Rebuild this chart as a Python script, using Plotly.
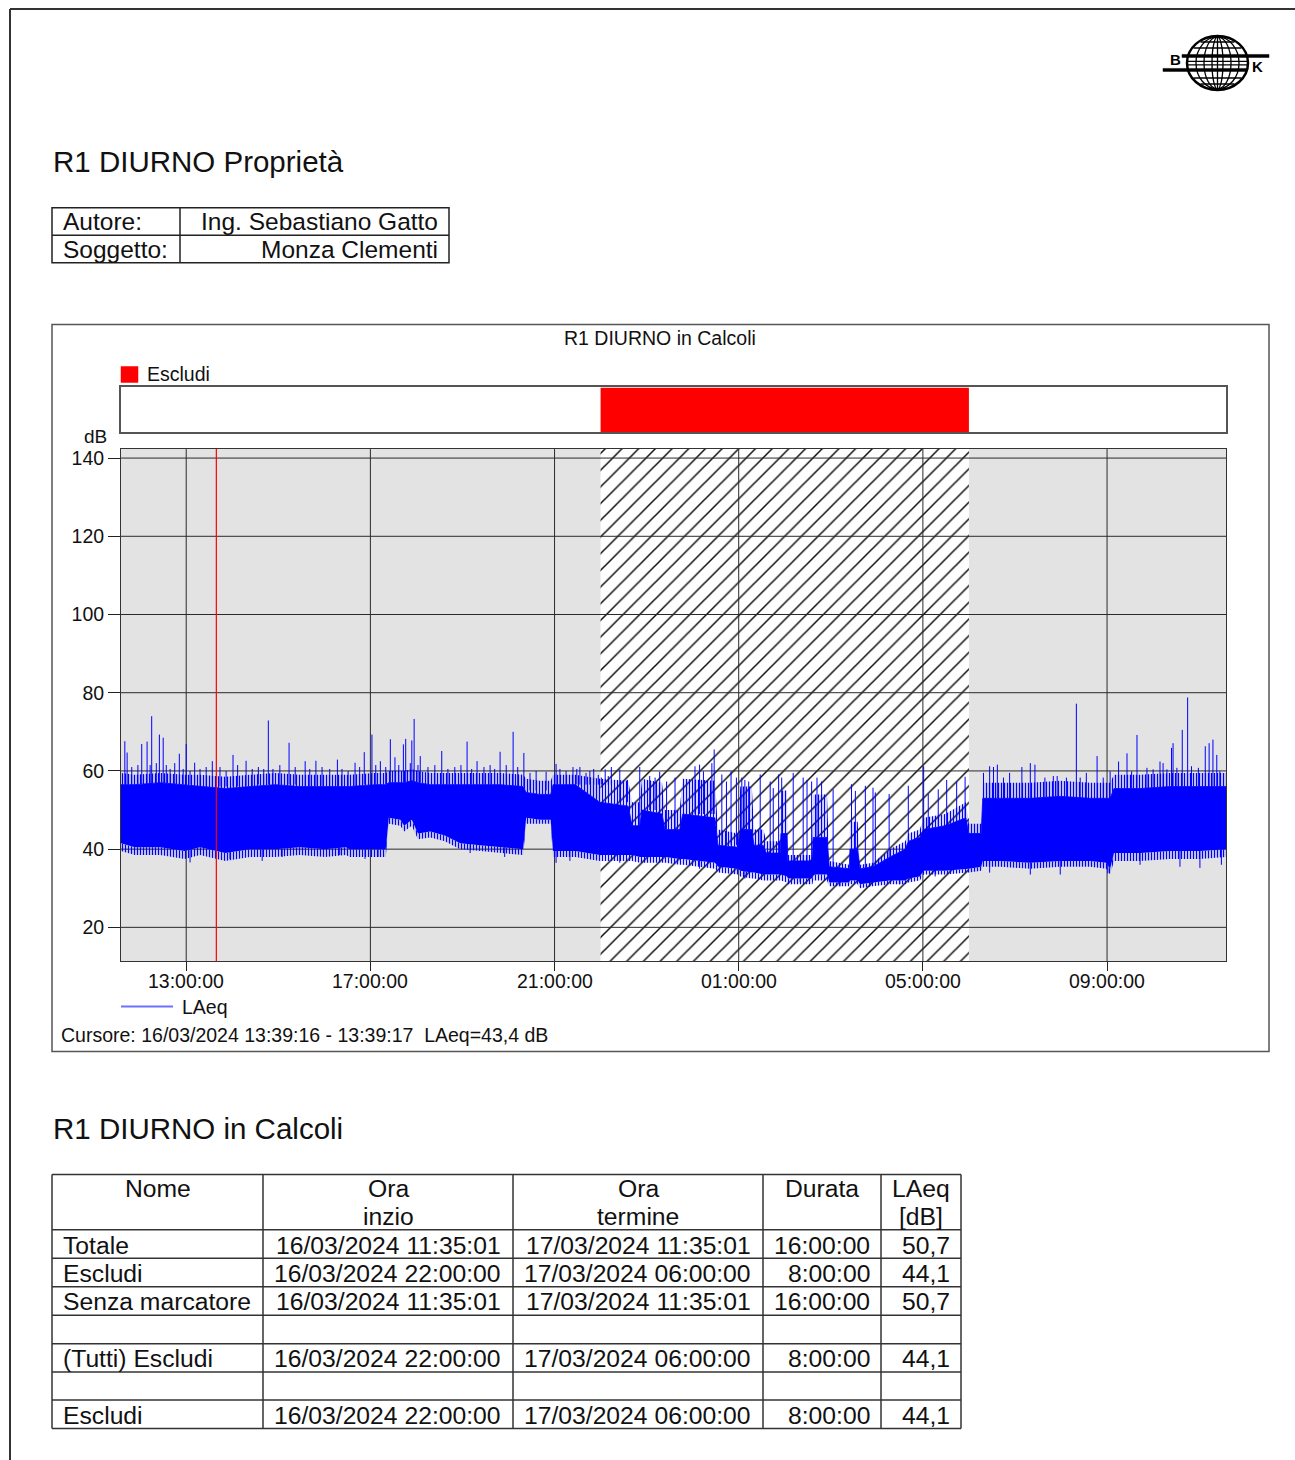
import plotly.graph_objects as go
import pandas as pd

W, H = 1295, 1460

# ---------------- data ----------------
rec_start = "2024-03-16 11:35:01"
rec_end = "2024-03-17 11:35:01"
excl_start = "2024-03-16 22:00:00"
excl_end = "2024-03-17 06:00:00"
cursor_time = "2024-03-16 13:39:16"

x_tick_times = ["2024-03-16 13:00:00", "2024-03-16 17:00:00", "2024-03-16 21:00:00",
                "2024-03-17 01:00:00", "2024-03-17 05:00:00", "2024-03-17 09:00:00"]
x_tick_labels = ["13:00:00", "17:00:00", "21:00:00", "01:00:00", "05:00:00", "09:00:00"]
y_ticks = [20, 40, 60, 80, 100, 120, 140]
y_range = [11.3, 142.3]

# LAeq trace envelope (minutes after start, dB):
#   floor = lowest sparse samples, lo/core = dense part, hi = top of the dense fringe of peaks
env_min = [0, 18, 51, 83, 103, 136, 168, 201, 233, 266, 293, 298, 331, 345, 349, 364, 369, 379, 387, 403,
           422, 442, 468, 494, 524, 528, 546, 560, 563, 592, 624, 661, 666, 676, 679, 705, 709, 728, 732, 774,
           778, 804, 807, 822, 825, 837, 841, 859, 860, 868, 869, 901, 902, 920, 923, 949, 950, 960, 963, 980,
           1002, 1022, 1026, 1041, 1046, 1074, 1101, 1105, 1121, 1123, 1146, 1185, 1224, 1263, 1284, 1289, 1294,
           1328, 1367, 1406, 1440]
env_floor = [39.5, 38.5, 38.5, 37.5, 38.5, 37, 38, 38, 38.5, 38, 38.5, 38, 38, 38, 46.5, 46, 44.5, 46, 42.5, 43,
             42, 40, 39.5, 39, 38.5, 46.5, 46.5, 46.5, 38, 38, 37, 37, 37, 36.5, 36.5, 36.5, 36.5, 36, 36, 35,
             34, 33.5, 33, 32.5, 32.5, 32, 32, 32, 32, 31.5, 31, 31, 32, 32, 30.5, 30.5, 31, 31, 30, 30.5,
             31, 31, 31.5, 32, 33.5, 33.5, 34, 34, 34.5, 35.5, 35.5, 35, 35.5, 35.5, 35, 33.5, 37,
             37, 37.5, 37.5, 38]
env_lo = [41.5, 40.5, 40.5, 39.5, 40.5, 39, 40, 40, 40.5, 40, 40.5, 40, 40, 40, 48, 47.5, 46, 47.5, 44, 44.5,
          43.5, 41.5, 41, 40.5, 40, 48, 47.5, 47.5, 39.5, 39.5, 38.5, 38.5, 38.5, 38, 38, 38, 38, 37.5, 37.5, 36.5,
          35.5, 35, 34.5, 34, 34, 33.5, 33.5, 33.5, 33.5, 33, 32.5, 32.5, 33.5, 33.5, 31.5, 31.5, 32, 32, 31, 31.5,
          32, 32, 32.5, 33, 34.5, 34.5, 35, 35, 35.5, 37, 37, 36.5, 37, 37, 36.5, 35, 39,
          39, 39.5, 39.5, 40]
env_core = [56.5, 56.5, 57, 56.5, 56, 55.5, 56, 56.5, 56, 56, 56, 56, 56.5, 56.5, 57, 57, 57, 57.5, 57, 56.5,
            56.5, 56.5, 56.5, 56.5, 56, 54.5, 54, 54, 56.5, 56.5, 52, 51, 46, 46, 50, 49, 45, 45, 49, 48,
            41, 40.5, 45, 45, 41, 41, 39, 39, 44, 44, 37, 37, 43, 43, 35.5, 35, 40, 40, 35, 35.5,
            38, 40, 42, 43, 45, 46, 48, 44, 44, 53, 53, 53, 53.5, 53, 53, 53, 55.5,
            55.5, 56, 56, 56]
env_hi = [59.5, 59, 59.5, 59, 59, 58.5, 59, 59.5, 59, 59, 59, 59, 59.5, 59.5, 60, 60, 60, 60.5, 60, 59.5,
          59.5, 59.5, 59.5, 59.5, 59, 58, 57.5, 57.5, 59, 59, 58, 57.5, 52, 52, 58, 57, 50, 50, 58, 57.5,
          45, 44, 56, 56, 45, 45, 42, 42, 55, 55, 38.5, 38.5, 54, 54, 37, 36, 47, 47, 36, 36.5,
          40, 42, 44, 45, 48, 49, 52, 46.5, 46.5, 57, 57, 57, 57.5, 57, 57, 57, 59,
          59, 59.5, 59.5, 59.5]

# isolated peaks: minutes after start, level where the peak leaves the band, peak level (dB)
peak_min = [5, 8, 14, 22, 27, 34, 38, 40, 46, 50, 55, 59, 64, 70, 76, 81, 85, 90, 96, 103,
            111, 119, 129, 137, 146, 152, 163, 171, 179, 186, 192, 198, 207, 219, 227, 240, 246, 254, 262, 272,
            282, 288, 296, 305, 311, 317, 327, 332, 338, 345, 351, 357, 362, 368, 371, 377, 379, 382, 387, 390,
            400, 409, 418, 426, 435, 443, 451, 457, 464, 473, 481, 487, 494, 502, 511, 517, 525, 533, 541, 554,
            567, 572, 580, 589, 594, 598, 606, 611, 616, 622, 626, 631, 635, 639, 650, 660, 676, 689, 696, 702,
            711, 722, 737, 748, 754, 759, 770, 773, 783, 789, 795, 802, 809, 813, 818, 833, 846, 850, 857, 861,
            876, 889, 894, 900, 907, 913, 928, 952, 957, 970, 980, 983, 1001, 1026, 1046, 1052, 1065, 1076, 1089, 1100,
            1124, 1132, 1137, 1142, 1150, 1158, 1174, 1185, 1191, 1204, 1215, 1220, 1232, 1245, 1250, 1258, 1272, 1280, 1289,
            1300, 1311, 1317, 1324, 1337, 1345, 1354, 1358, 1363, 1369, 1371, 1376, 1383, 1390, 1395, 1404, 1413, 1418,
            1423, 1428, 1432, 1437]
peak_base = [56.5] * 19 + [56] * 9 + [56.5] * 7 + [56] * 10 + [56.5] * 5 + [57] * 10 + [56.5] * 14 + [56] * 3 + [55] * 3 + \
            [56.5] * 14 + [52, 52, 46, 50, 50, 49,
             45, 45, 49, 49, 49, 49, 49, 49, 41, 41, 41, 41, 45, 45, 45, 41, 39, 39, 39, 44,
             37, 37, 37, 37, 43, 43, 35.5, 40, 40, 35, 35.5, 35.5, 38, 42, 45, 45, 46, 46, 47, 48] + \
            [53] * 19 + [55.5] * 9 + [56] * 12
peak_top = [67.6, 64.7, 61.0, 61.5, 66.9, 67.5, 61.5, 74.0, 62.0, 69.3, 68.5, 61.5, 60.5, 62.0, 64.4, 60.5, 66.9, 60.0, 62.1, 60.5,
            61.0, 62.5, 61.0, 60.0, 64.1, 61.5, 62.6, 60.5, 61.0, 60.5, 72.9, 60.5, 61.5, 67.2, 61.0, 62.5, 60.5, 62.6, 61.0, 60.5,
            62.9, 60.5, 60.0, 62.1, 61.0, 64.8, 69.3, 61.5, 62.5, 61.0, 68.1, 63.5, 61.5, 66.8, 68.2, 62.0, 67.8, 73.3, 61.5, 63.8,
            61.0, 61.5, 65.1, 60.5, 61.0, 61.5, 67.5, 60.5, 62.5, 61.0, 61.5, 60.5, 64.9, 61.5, 70.0, 61.0, 64.6, 59.5, 60.0, 59.8,
            61.8, 60.5, 60.0, 61.0, 60.5, 61.0, 59.5, 60.0, 60.5, 59.0, 58.3, 60.4, 58.7, 61.0, 60.4, 57.7, 61.0, 58.7, 58.3, 59.8,
            57.3, 58.3, 57.7, 61.2, 61.6, 59.9, 62.0, 65.5, 59.1, 57.3, 59.9, 58.3, 58.3, 57.7, 57.3, 59.1, 57.3, 55.6, 59.1, 58.3,
            59.5, 58.3, 57.7, 57.3, 58.3, 57.3, 55.3, 56.6, 54.9, 56.2, 55.7, 54.5, 54.1, 56.2, 61.2, 54.1, 55.3, 57.7, 57.3, 58.5,
            59.5, 61.2, 61.0, 61.6, 58.3, 59.5, 61.0, 62.0, 61.6, 58.3, 58.7, 58.7, 58.3, 77.2, 58.3, 59.5, 63.8, 58.3, 59.9,
            62.4, 64.5, 59.9, 69.2, 60.8, 60.4, 62.4, 62.0, 60.4, 65.9, 67.1, 60.8, 70.5, 78.8, 61.2, 60.8, 66.3, 67.1,
            68.0, 64.1, 59.9, 66.3]

# isolated dips: minutes after start, band bottom level, dip level (dB)
dip_min = [90, 142, 184, 210, 285, 318, 335, 455, 500, 567, 585, 650, 754, 813, 885, 937, 976, 1015, 1061,
           1132, 1185, 1224, 1286, 1328, 1380, 1406, 1434]
dip_base = [40, 39.5, 40, 40, 40.5, 40.5, 40.5, 41.5, 41, 40, 40, 39, 37.5, 35, 33, 32, 32, 32.5, 35,
            37.5, 37, 37.5, 37, 39.5, 40, 40, 40.5]
dip_bottom = [36.6, 37.5, 37.0, 38.0, 38.5, 37.5, 38.0, 39.0, 38.0, 36.5, 37.0, 36.5, 35.0, 32.5, 31.5, 30.5, 30.5, 31.0, 33.0,
              34.0, 33.5, 33.5, 33.8, 36.0, 35.5, 35.2, 36.0]

# tables
info_labels = ["Autore:", "Soggetto:"]
info_values = ["Ing. Sebastiano Gatto", "Monza Clementi"]
tab_header_1 = ["Nome", "Ora", "Ora", "Durata", "LAeq"]
tab_header_2 = ["", "inzio", "termine", "", "[dB]"]
tab_nome = ["Totale", "Escludi", "Senza marcatore", "", "(Tutti) Escludi", "", "Escludi"]
tab_inizio = ["16/03/2024 11:35:01", "16/03/2024 22:00:00", "16/03/2024 11:35:01", "",
              "16/03/2024 22:00:00", "", "16/03/2024 22:00:00"]
tab_termine = ["17/03/2024 11:35:01", "17/03/2024 06:00:00", "17/03/2024 11:35:01", "",
               "17/03/2024 06:00:00", "", "17/03/2024 06:00:00"]
tab_durata = ["16:00:00", "8:00:00", "16:00:00", "", "8:00:00", "", "8:00:00"]
tab_laeq = ["50,7", "44,1", "50,7", "", "44,1", "", "44,1"]

# ---------------- helpers ----------------
t0 = pd.Timestamp(rec_start)


def at(m):
    return t0 + pd.Timedelta(minutes=m)


FONT = "Liberation Sans"
BLUE = "#0000ff"
shapes = []
annotations = []


def X(x):
    return x / W


def Y(y):
    return 1 - y / H


def text(s, x, y, size, xanchor="left", color="#111"):
    annotations.append(dict(text=s, x=X(x), y=Y(y), xref="paper", yref="paper", xanchor=xanchor,
                            yanchor="middle", showarrow=False,
                            font=dict(family=FONT, size=size, color=color)))


def line(x0, y0, x1, y1, color="#222", width=1.5):
    shapes.append(dict(type="line", xref="paper", yref="paper", x0=X(x0), y0=Y(y0), x1=X(x1), y1=Y(y1),
                       line=dict(color=color, width=width)))


def rect(x0, y0, x1, y1, color="#222", width=1.5, fill="rgba(0,0,0,0)"):
    shapes.append(dict(type="rect", xref="paper", yref="paper", x0=X(x0), y0=Y(y0), x1=X(x1), y1=Y(y1),
                       line=dict(color=color, width=width), fillcolor=fill))


def ellipse(x0, y0, x1, y1, color="#000", width=1.5, fill="rgba(0,0,0,0)"):
    shapes.append(dict(type="circle", xref="paper", yref="paper", x0=X(x0), y0=Y(y0), x1=X(x1), y1=Y(y1),
                       line=dict(color=color, width=width), fillcolor=fill))


fig = go.Figure()

# exclusion hatch (below grid and data)
box_x = [excl_start, excl_end, excl_end, excl_start, excl_start]
fig.add_trace(go.Scatter(
    x=box_x, y=[y_range[0], y_range[0], y_range[1], y_range[1], y_range[0]],
    mode="lines", line=dict(width=0, color="rgba(0,0,0,0)"), fill="toself", fillcolor="white",
    fillpattern=dict(shape="/", fgcolor="#111111", bgcolor="white", size=11.8, solidity=0.13, fillmode="replace"),
    hoverinfo="skip", xaxis="x", yaxis="y"))

# grid
gx, gy = [], []
for v in y_ticks:
    gx += [rec_start, rec_end, None]
    gy += [v, v, None]
for t in x_tick_times:
    gx += [t, t, None]
    gy += [y_range[0], y_range[1], None]
fig.add_trace(go.Scatter(x=gx, y=gy, mode="lines", line=dict(color="#2a2a2a", width=1),
                         hoverinfo="skip", xaxis="x", yaxis="y"))

# LAeq band: sparse fringe below, dense core, sparse fringe above
env_t = [at(m) for m in env_min]
fringe = dict(shape="|", fgcolor=BLUE, bgcolor="rgba(0,0,0,0)", size=3, solidity=0.45, fillmode="replace")
fig.add_trace(go.Scatter(x=env_t, y=env_floor, mode="lines", line=dict(width=0, color="rgba(0,0,0,0)"),
                         xaxis="x", yaxis="y", hoverinfo="skip"))
fig.add_trace(go.Scatter(x=env_t, y=env_lo, mode="lines", line=dict(width=0, color="rgba(0,0,0,0)"),
                         fill="tonexty", fillcolor="rgba(0,0,0,0)", fillpattern=fringe,
                         xaxis="x", yaxis="y", hoverinfo="skip"))
fig.add_trace(go.Scatter(x=env_t, y=env_core, mode="lines", line=dict(color=BLUE, width=0.8),
                         fill="tonexty", fillcolor=BLUE, xaxis="x", yaxis="y", name="LAeq"))
fig.add_trace(go.Scatter(x=env_t, y=env_hi, mode="lines", line=dict(width=0, color="rgba(0,0,0,0)"),
                         fill="tonexty", fillcolor="rgba(0,0,0,0)", fillpattern=fringe,
                         xaxis="x", yaxis="y", hoverinfo="skip"))

# peaks and dips
sx, sy = [], []
for m, b, p in zip(peak_min, peak_base, peak_top):
    sx += [at(m), at(m), None]
    sy += [b, p, None]
for m, b, p in zip(dip_min, dip_base, dip_bottom):
    sx += [at(m), at(m), None]
    sy += [b, p, None]
fig.add_trace(go.Scatter(x=sx, y=sy, mode="lines", line=dict(color=BLUE, width=1),
                         xaxis="x", yaxis="y", name="LAeq"))

# marker bar (Escludi)
fig.add_trace(go.Scatter(x=box_x, y=[0, 0, 1, 1, 0], mode="lines", line=dict(width=0, color="rgba(0,0,0,0)"),
                         fill="toself", fillcolor="#ff0000", xaxis="x2", yaxis="y2", hoverinfo="skip"))

# plot background and cursor
shapes.append(dict(type="rect", xref="x domain", yref="y domain", x0=0, x1=1, y0=0, y1=1,
                   fillcolor="#e3e3e3", line=dict(width=0), layer="below"))
shapes.append(dict(type="line", xref="x", yref="y domain", x0=cursor_time, x1=cursor_time, y0=0, y1=1,
                   line=dict(color="#ff0000", width=1.2), layer="above"))

# x tick labels
for tv, tl in zip(x_tick_times, x_tick_labels):
    annotations.append(dict(text=tl, x=tv, xref="x", y=Y(980.5), yref="paper", xanchor="center",
                            yanchor="middle", showarrow=False, font=dict(family=FONT, size=19.5, color="#111")))

# ---------------- page decorations ----------------
line(10, 7, 1295, 7, "#333", 2)
line(10, 7, 10, 1460, "#333", 2)

# logo
ellipse(1187, 34, 1248, 88, "#000", 2.5, "white")
ellipse(1196, 35, 1239, 87, "#000", 1.3)
ellipse(1204, 35, 1231, 87, "#000", 1.3)
ellipse(1212, 35, 1223, 87, "#000", 1.3)
line(1217.5, 35, 1217.5, 87, "#000", 1.3)
for yy, half in [(40, 17), (46, 24), (76, 24), (82, 17)]:
    line(1217.5 - half, yy, 1217.5 + half, yy, "#000", 1.5)
line(1188, 59.5, 1247, 59.5, "#000", 1.3)
line(1188, 63, 1247, 63, "#000", 1.3)
rect(1182, 52.5, 1269, 55.5, "#000", 0.5, "#000")
rect(1163, 66.5, 1247, 69.5, "#000", 0.5, "#000")
text("<b>B</b>", 1175.5, 57.5, 15, "center", "#000")
text("<b>K</b>", 1257, 65, 15, "center", "#000")

# title and info table
text("R1 DIURNO Proprietà", 51, 160, 29.5)
rect(52, 206, 449, 261, "#222", 1.5)
line(52, 233.5, 449, 233.5, "#222", 1.5)
line(180, 206, 180, 261, "#222", 1.5)
for i, (lab, val) in enumerate(zip(info_labels, info_values)):
    yc = 220 + i * 28
    text(lab, 61, yc, 24.5)
    text(val, 440, yc, 24.5, "right")

# chart frame & labels
rect(52, 323, 1269, 1051, "#555", 1.5)
text("R1 DIURNO in Calcoli", 660, 336, 19.5, "center")
rect(121, 365, 138, 381, "#ff0000", 0.5, "#ff0000")
text("Escludi", 145, 373, 19.5)
text("dB", 95, 435, 19, "center")
line(121, 1006, 173, 1006, "#7070ff", 2)
text("LAeq", 180, 1006, 19.5)
text("Cursore: 16/03/2024 13:39:16 - 13:39:17  LAeq=43,4 dB", 59, 1034, 19.5)

# second table
text("R1 DIURNO in Calcoli", 51, 1128, 29.5)
col_x = [52, 263, 513, 763, 881, 961]
row_y = [1174, 1229.5, 1258, 1286.5, 1315, 1343.5, 1372, 1400, 1428.5]
for yy in row_y:
    line(col_x[0], yy, col_x[-1], yy, "#333", 1.5)
for xx in col_x:
    line(xx, row_y[0], xx, row_y[-1], "#333", 1.5)
centers = [(col_x[i] + col_x[i + 1]) / 2 for i in range(5)]
TS = 24.7
for i in range(5):
    text(tab_header_1[i], centers[i], 1188, TS, "center")
    if tab_header_2[i]:
        text(tab_header_2[i], centers[i], 1216, TS, "center")
for r in range(len(tab_nome)):
    yc = (row_y[r + 1] + row_y[r + 2]) / 2 + 1
    if tab_nome[r]:
        text(tab_nome[r], 61, yc, TS)
    if tab_inizio[r]:
        text(tab_inizio[r], 503, yc, TS, "right")
    if tab_termine[r]:
        text(tab_termine[r], 753, yc, TS, "right")
    if tab_durata[r]:
        text(tab_durata[r], 872, yc, TS, "right")
    if tab_laeq[r]:
        text(tab_laeq[r], 952, yc, TS, "right")

xdom = [121 / W, 1226 / W]
fig.update_layout(
    width=W, height=H, margin=dict(l=0, r=0, t=0, b=0, pad=0),
    paper_bgcolor="white", plot_bgcolor="white", showlegend=False,
    font=dict(family=FONT, color="#111"),
    xaxis=dict(domain=xdom, anchor="y", type="date", range=[rec_start, rec_end],
               tickmode="array", tickvals=x_tick_times, showticklabels=False,
               ticks="outside", ticklen=9, tickwidth=1, tickcolor="#222",
               showgrid=False, zeroline=False, showline=True, linecolor="#333", linewidth=1, mirror=True,
               fixedrange=True),
    yaxis=dict(domain=[1 - 960.7 / H, 1 - 447.7 / H], anchor="x", range=y_range,
               tickmode="array", tickvals=y_ticks, ticks="outside", ticklen=12, tickwidth=1, tickcolor="#222",
               showgrid=False, zeroline=False, showline=True, linecolor="#333", linewidth=1, mirror=True,
               tickfont=dict(size=19.5, family=FONT, color="#111"), fixedrange=True),
    xaxis2=dict(domain=xdom, anchor="y2", matches="x", type="date", showticklabels=False, ticks="",
                showgrid=False, zeroline=False, showline=True, linecolor="#555", linewidth=1.5, mirror=True),
    yaxis2=dict(domain=[1 - 431 / H, 1 - 386 / H], anchor="x2", range=[0, 1], showticklabels=False, ticks="",
                showgrid=False, zeroline=False, showline=True, linecolor="#555", linewidth=1.5, mirror=True,
                fixedrange=True),
    shapes=shapes, annotations=annotations,
)

fig.write_html("out.html", config={"displayModeBar": False},
               post_script="document.body.style.margin='0';document.body.style.overflow='hidden';")
